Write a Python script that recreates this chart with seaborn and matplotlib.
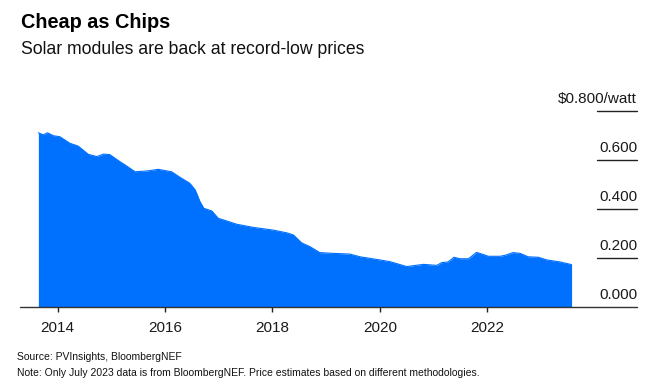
import matplotlib
matplotlib.use("Agg")
import matplotlib.pyplot as plt
import matplotlib.transforms as mtransforms
import seaborn as sns
import pandas as pd

# module price, $/watt
years = [2013.64, 2013.73, 2013.81, 2013.92, 2014.04, 2014.23, 2014.38, 2014.57,
         2014.73, 2014.85, 2014.97, 2015.16, 2015.28, 2015.44, 2015.66, 2015.87,
         2016.12, 2016.28, 2016.46, 2016.56, 2016.65, 2016.72, 2016.87, 2016.99,
         2017.15, 2017.33, 2017.64, 2018.01, 2018.26, 2018.39, 2018.54, 2018.70,
         2018.88, 2019.13, 2019.44, 2019.63, 2020.00, 2020.19, 2020.50, 2020.81,
         2021.06, 2021.15, 2021.27, 2021.38, 2021.49, 2021.65, 2021.80, 2021.90,
         2022.02, 2022.24, 2022.33, 2022.48, 2022.61, 2022.76, 2022.95, 2023.11,
         2023.35, 2023.57]
price = [0.711, 0.703, 0.711, 0.699, 0.695, 0.668, 0.657, 0.623,
         0.614, 0.624, 0.622, 0.593, 0.576, 0.552, 0.555, 0.562,
         0.552, 0.529, 0.505, 0.478, 0.430, 0.403, 0.392, 0.362,
         0.351, 0.338, 0.325, 0.314, 0.303, 0.294, 0.262, 0.246,
         0.222, 0.219, 0.216, 0.205, 0.192, 0.185, 0.165, 0.174,
         0.170, 0.181, 0.184, 0.203, 0.197, 0.197, 0.223, 0.216,
         0.207, 0.207, 0.211, 0.222, 0.219, 0.205, 0.203, 0.192,
         0.184, 0.173]

xticks = [2014, 2016, 2018, 2020, 2022]
yticks = [0.0, 0.2, 0.4, 0.6, 0.8]
ylabels = ["0.000", "0.200", "0.400", "0.600", "$0.800/watt"]

df = pd.DataFrame({"year": years, "price": price})

sns.set_theme(style="white")
plt.rcParams["font.family"] = ["Liberation Sans", "DejaVu Sans"]

W, H = 654, 387
fig = plt.figure(figsize=(W / 100, H / 100), dpi=100)
ax = fig.add_axes([20 / W, 1 - 307 / H, 617 / W, 196 / H])

blue = "#0070ff"
sns.lineplot(data=df, x="year", y="price", ax=ax, color=blue, linewidth=0.8)
ax.fill_between(df["year"], 0, df["price"], color=blue, linewidth=0)

ax.set_xlim(2013.298, 2024.788)
ax.set_ylim(0, 0.8)
for s in ax.spines.values():
    s.set_visible(False)
ax.set_xlabel("")
ax.set_ylabel("")
ax.set_yticks([])
ax.set_xticks(xticks)
ax.set_xticklabels([str(t) for t in xticks], fontsize=11, color="#1a1a1a")
ax.tick_params(axis="x", bottom=True, length=3.3, width=1, color="#222222",
               pad=6.5)

# baseline and short right-hand gridlines
ax.axhline(0, color="#333333", linewidth=1, clip_on=False, zorder=3)
trans = mtransforms.blended_transform_factory(ax.transAxes, ax.transData)
for v, lab in zip(yticks, ylabels):
    if v > 0:
        ax.plot([(597 - 20) / 617, 1], [v, v], transform=trans,
                color="#222222", linewidth=1, clip_on=False)
    ax.annotate(lab, xy=(1, v), xycoords=trans, xytext=(0, 5.5),
                textcoords="offset points", ha="right", va="baseline",
                fontsize=11, color="#1a1a1a", annotation_clip=False)

fig.text(21 / W, 1 - 28 / H, "Cheap as Chips", fontsize=14.3,
         fontweight="bold", va="baseline", ha="left", color="black")
fig.text(21 / W, 1 - 54 / H, "Solar modules are back at record-low prices",
         fontsize=12.7, va="baseline", ha="left", color="#111111")
fig.text(17 / W, 1 - 360.5 / H, "Source: PVInsights, BloombergNEF",
         fontsize=7.5, va="baseline", ha="left", color="#111111")
fig.text(17 / W, 1 - 376 / H,
         "Note: Only July 2023 data is from BloombergNEF. Price estimates based on different methodologies.",
         fontsize=7.5, va="baseline", ha="left", color="#111111")

fig.savefig("out.png", dpi=100)
